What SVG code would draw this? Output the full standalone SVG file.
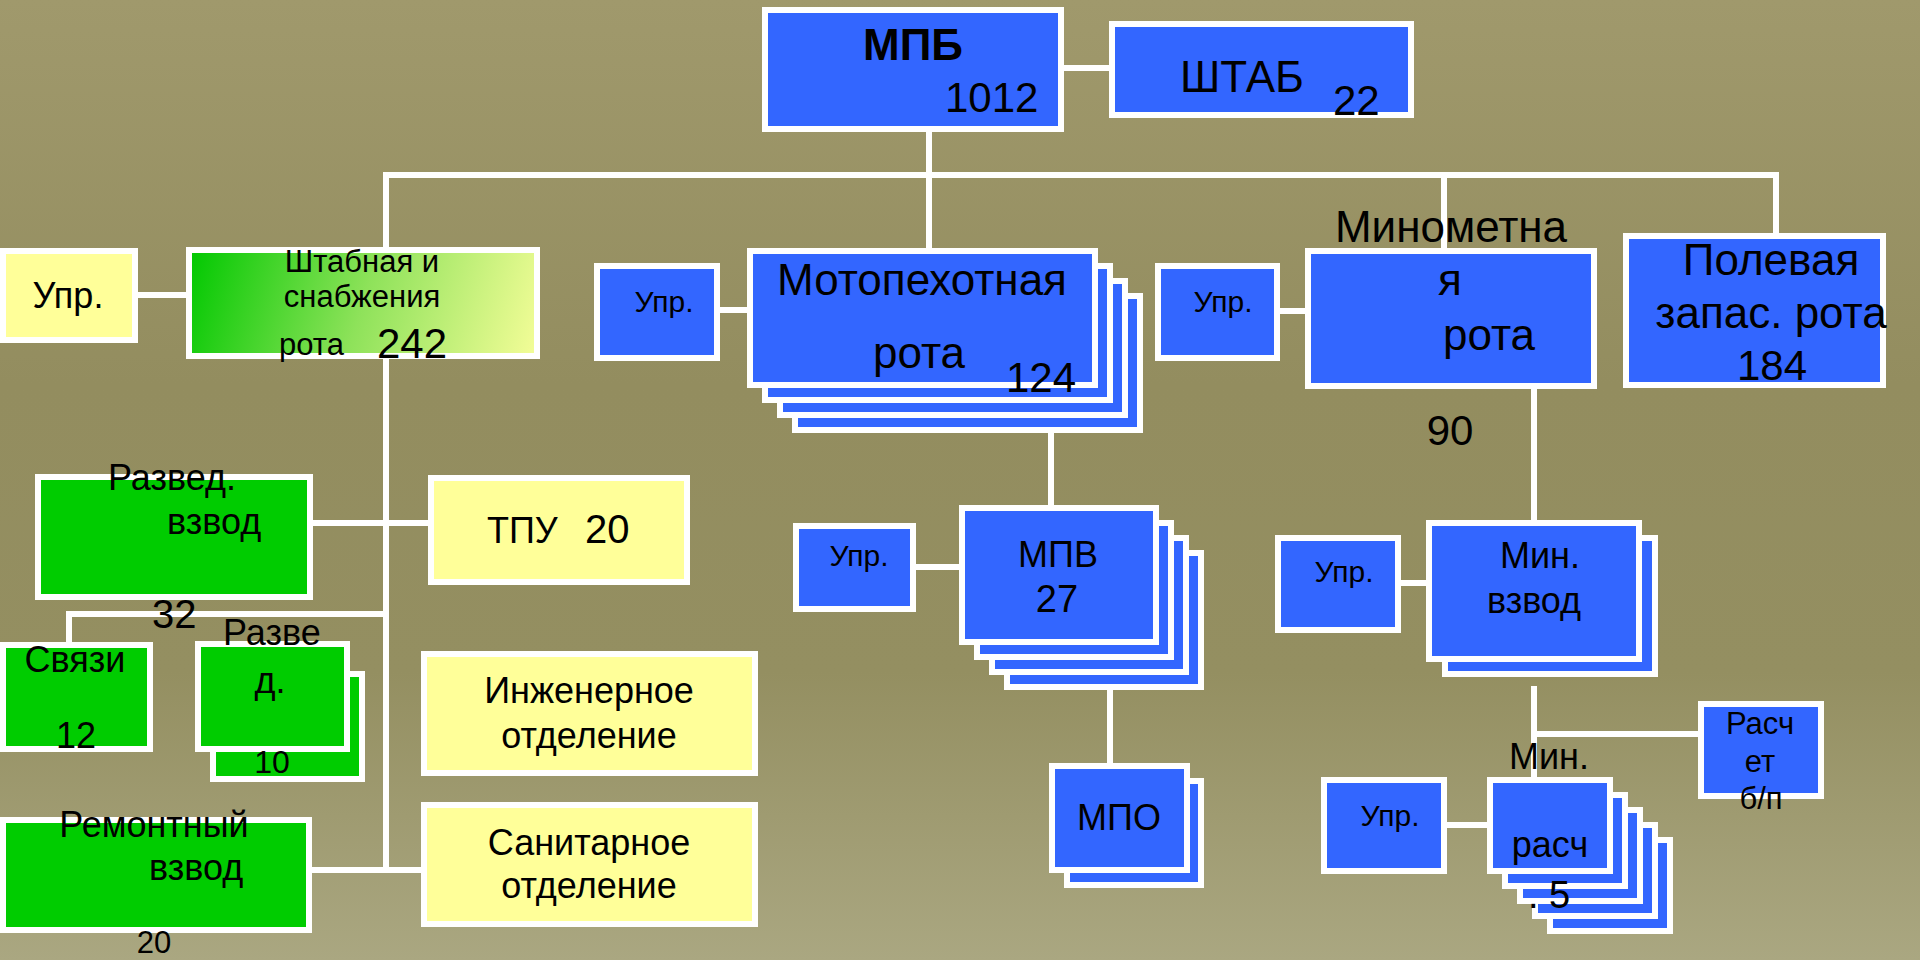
<svg xmlns="http://www.w3.org/2000/svg" width="1920" height="960" viewBox="0 0 1920 960">
<defs>
<linearGradient id="bg" x1="0" y1="0" x2="0" y2="1">
<stop offset="0" stop-color="#a0996c"/>
<stop offset="0.4" stop-color="#938d5f"/>
<stop offset="0.7" stop-color="#948f61"/>
<stop offset="1" stop-color="#aaa781"/>
</linearGradient>
<linearGradient id="gy" gradientUnits="userSpaceOnUse" x1="189" y1="250" x2="537" y2="356">
<stop offset="0" stop-color="#00c800"/>
<stop offset="0.5" stop-color="#8ee25a"/>
<stop offset="1" stop-color="#f4fd98"/>
</linearGradient>
</defs>
<style>
.b{fill:#3366ff;stroke:#fff;stroke-width:6}
.g{fill:#00cc00;stroke:#fff;stroke-width:6}
.y{fill:#ffff99;stroke:#fff;stroke-width:6}
.gg{fill:url(#gy);stroke:#fff;stroke-width:6}
text{font-family:"Liberation Sans",Arial,sans-serif;fill:#000}
.m{text-anchor:middle}
.f44{font-size:44px}
.f42{font-size:42px}
.f40{font-size:40px}
.f36{font-size:36px}
.f31{font-size:31px}
.f30{font-size:30px}
#connectors path{stroke:#fff;stroke-width:6;fill:none;stroke-linecap:square}
</style>
<rect x="0" y="0" width="1920" height="960" fill="url(#bg)"/>
<g id="connectors">
<path d="M1064 68H1109"/>
<path d="M929 132V248"/>
<path d="M386 175H1776"/>
<path d="M386 175V248"/>
<path d="M386 359V868"/>
<path d="M1444 175V248"/>
<path d="M1776 175V233"/>
<path d="M138 295H186"/>
<path d="M720 310H747"/>
<path d="M1280 311H1305"/>
<path d="M1051 433V505"/>
<path d="M1534 389V520"/>
<path d="M313 523H428"/>
<path d="M69 614H386"/>
<path d="M69 614V642"/>
<path d="M313 870H421"/>
<path d="M916 567H959"/>
<path d="M1110 690V763"/>
<path d="M1401 583H1426"/>
<path d="M1534 689V777"/>
<path d="M1534 734H1698"/>
<path d="M1447 825H1487"/>
</g>
<g id="mpb">
<rect class="b" x="765" y="10" width="296" height="119"/>
<text x="863" y="60" style="font-size:44px;font-weight:bold">МПБ</text>
<text class="f42" x="945" y="112">1012</text>
</g>
<g id="shtab">
<rect class="b" x="1112" y="24" width="299" height="91"/>
<text class="f44" x="1180" y="92">ШТАБ</text>
<text class="f42" x="1333" y="115">22</text>
</g>
<g id="upr-shtabnaya">
<rect class="y" x="3" y="251" width="132" height="89"/>
<text class="f36 m" x="68" y="308">Упр.</text>
</g>
<g id="shtabnaya-rota">
<rect class="gg" x="189" y="250" width="348" height="106"/>
<text class="f31 m" x="362" y="272">Штабная и</text>
<text class="f31 m" x="362" y="307">снабжения</text>
<text class="f31" x="279" y="355">рота</text>
<text class="f42" x="377" y="358">242</text>
</g>
<g id="upr-motopeh">
<rect class="b" x="597" y="266" width="120" height="92"/>
<text class="f30 m" x="664" y="312">Упр.</text>
</g>
<g id="motopeh-rota">
<rect class="b" x="795" y="296" width="345" height="134"/>
<rect class="b" x="780" y="281" width="345" height="134"/>
<rect class="b" x="765" y="266" width="345" height="134"/>
<rect class="b" x="750" y="251" width="345" height="134"/>
<text class="f44 m" x="922" y="295">Мотопехотная</text>
<text class="f44 m" x="919" y="368">рота</text>
<text class="f42" x="1006" y="392">124</text>
</g>
<g id="upr-minomet">
<rect class="b" x="1158" y="266" width="119" height="92"/>
<text class="f30 m" x="1223" y="312">Упр.</text>
</g>
<g id="minomet-rota">
<rect class="b" x="1308" y="251" width="286" height="135"/>
<text class="f44 m" x="1451" y="242">Минометна</text>
<text class="f44 m" x="1450" y="295">я</text>
<text class="f44 m" x="1489" y="350">рота</text>
<text class="f42 m" x="1450" y="445">90</text>
</g>
<g id="polevaya-rota">
<rect class="b" x="1626" y="236" width="257" height="149"/>
<text class="f44 m" x="1771" y="275">Полевая</text>
<text class="f44 m" x="1771" y="328">запас. рота</text>
<text class="f42 m" x="1772" y="380">184</text>
</g>
<g id="razved-vzvod">
<rect class="g" x="38" y="477" width="272" height="120"/>
<text class="f36" x="108" y="490">Развед.</text>
<text class="f36" x="167" y="534">взвод</text>
<text class="f40" x="152" y="628">32</text>
</g>
<g id="tpu">
<rect class="y" x="431" y="478" width="256" height="104"/>
<text class="f36" x="487" y="543">ТПУ</text>
<text class="f40" x="585" y="543">20</text>
</g>
<g id="svyazi">
<rect class="g" x="3" y="645" width="147" height="104"/>
<text class="f36 m" x="75" y="672">Связи</text>
<text class="f36 m" x="76" y="748">12</text>
</g>
<g id="razved-otd">
<rect class="g" x="213" y="674" width="149" height="105"/>
<rect class="g" x="198" y="644" width="149" height="105"/>
<text class="f36" x="223" y="645">Разве</text>
<text class="f36 m" x="270" y="693">д.</text>
<text class="m" style="font-size:32px" x="272" y="773">10</text>
</g>
<g id="inzhener">
<rect class="y" x="424" y="654" width="331" height="119"/>
<text class="f36 m" x="589" y="703">Инженерное</text>
<text class="f36 m" x="589" y="748">отделение</text>
</g>
<g id="sanitar">
<rect class="y" x="424" y="805" width="331" height="119"/>
<text class="f36 m" x="589" y="855">Санитарное</text>
<text class="f36 m" x="589" y="898">отделение</text>
</g>
<g id="remont-vzvod">
<rect class="g" x="3" y="820" width="306" height="110"/>
<text class="f36 m" x="154" y="837">Ремонтный</text>
<text class="f36" x="149" y="880">взвод</text>
<text class="m" style="font-size:31px" x="154" y="953">20</text>
</g>
<g id="upr-mpv">
<rect class="b" x="796" y="526" width="117" height="83"/>
<text class="f30 m" x="859" y="566">Упр.</text>
</g>
<g id="mpv">
<rect class="b" x="1007" y="553" width="194" height="134"/>
<rect class="b" x="992" y="538" width="194" height="134"/>
<rect class="b" x="977" y="523" width="194" height="134"/>
<rect class="b" x="962" y="508" width="194" height="134"/>
<text class="f36 m" x="1058" y="567">МПВ</text>
<text class="m" style="font-size:38px" x="1057" y="612">27</text>
</g>
<g id="mpo">
<rect class="b" x="1067" y="781" width="134" height="104"/>
<rect class="b" x="1052" y="766" width="135" height="104"/>
<text class="f36 m" x="1119" y="830">МПО</text>
</g>
<g id="upr-min-vzvod">
<rect class="b" x="1278" y="538" width="120" height="92"/>
<text class="f30 m" x="1344" y="582">Упр.</text>
</g>
<g id="min-vzvod">
<rect class="b" x="1445" y="538" width="210" height="136"/>
<rect class="b" x="1429" y="523" width="210" height="136"/>
<text class="f36 m" x="1540" y="568">Мин.</text>
<text class="f36 m" x="1534" y="613">взвод</text>
</g>
<g id="raschet-bp">
<rect class="b" x="1701" y="704" width="120" height="92"/>
<text class="f31 m" x="1760" y="734">Расч</text>
<text class="f31 m" x="1760" y="772">ет</text>
<text class="f31 m" x="1761" y="809">б/п</text>
</g>
<g id="upr-min-rasch">
<rect class="b" x="1324" y="780" width="120" height="91"/>
<text class="f30 m" x="1390" y="826">Упр.</text>
</g>
<g id="min-rasch">
<rect class="b" x="1550" y="840" width="120" height="91"/>
<rect class="b" x="1535" y="825" width="120" height="91"/>
<rect class="b" x="1520" y="810" width="120" height="91"/>
<rect class="b" x="1505" y="795" width="120" height="91"/>
<rect class="b" x="1490" y="780" width="120" height="91"/>
<text class="f36 m" x="1549" y="769">Мин.</text>
<text class="f36 m" x="1550" y="857">расч</text>
<text style="font-size:38px" x="1528" y="908">. 5</text>
</g>
</svg>
